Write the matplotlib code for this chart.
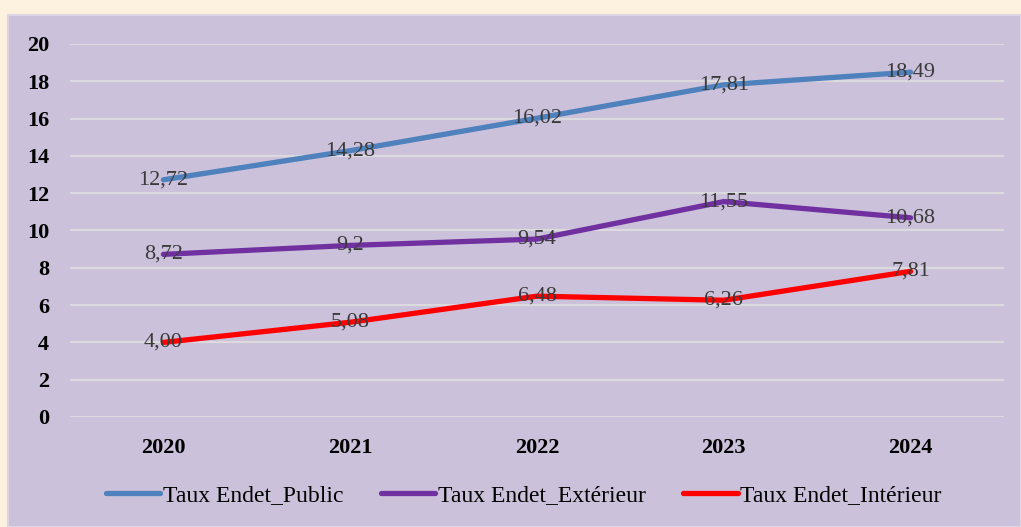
import matplotlib.pyplot as plt
from matplotlib.patches import Rectangle

# data
years = ["2020", "2021", "2022", "2023", "2024"]
taux_public = [12.72, 14.28, 16.02, 17.81, 18.49]
taux_exterieur = [8.72, 9.2, 9.54, 11.55, 10.68]
taux_interieur = [4.00, 5.08, 6.48, 6.26, 7.81]
labels_public = ["12,72", "14,28", "16,02", "17,81", "18,49"]
labels_exterieur = ["8,72", "9,2", "9,54", "11,55", "10,68"]
labels_interieur = ["4,00", "5,08", "6,48", "6,26", "7,81"]

plt.rcParams['font.family'] = ['Liberation Serif', 'DejaVu Serif']

fig = plt.figure(figsize=(10.21, 5.27), dpi=100)
fig.patch.set_facecolor("#FDF2DF")

# purple chart area
bg = Rectangle((8 / 1021, 0), 1 - 8 / 1021, (527 - 15) / 527, transform=fig.transFigure,
               facecolor="#CCC1DA", edgecolor="#DCD6E4", linewidth=1.5, zorder=-10)
fig.patches.append(bg)

ax = fig.add_axes([70 / 1021, (527 - 417) / 527, (1004 - 70) / 1021, (417 - 44) / 527])
ax.set_facecolor("none")

x = list(range(len(years)))
series = [
    (taux_public, labels_public, "#4F81BD", "Taux Endet_Public"),
    (taux_exterieur, labels_exterieur, "#7030A0", "Taux Endet_Extérieur"),
    (taux_interieur, labels_interieur, "#FF0000", "Taux Endet_Intérieur"),
]
for vals, labs, color, name in series:
    ax.plot(x, vals, color=color, linewidth=3.8, solid_capstyle="round", label=name, zorder=3)
    for xi, v, t in zip(x, vals, labs):
        ax.text(xi, v, t, ha="center", va="center", fontsize=16, color="#3A3A3A", zorder=4)

ax.set_xlim(-0.5, len(years) - 0.5)
ax.set_ylim(0, 20)
ax.set_yticks(range(0, 21, 2))
ax.set_xticks(x)
ax.set_xticklabels(years)
ax.yaxis.grid(True, color="#DDDADF", linewidth=1.5)
ax.set_axisbelow(True)
for s in ax.spines.values():
    s.set_visible(False)
ax.tick_params(length=0)
ax.tick_params(axis="y", pad=15)
ax.tick_params(axis="x", pad=15)
for lab in ax.get_xticklabels() + ax.get_yticklabels():
    lab.set_fontweight("bold")
    lab.set_fontsize(16)
    lab.set_color("black")

leg = fig.legend(loc="center", bbox_to_anchor=(0.513, (527 - 495) / 527), ncol=3,
                 frameon=False, fontsize=17, handlelength=2.3, handletextpad=0.1,
                 columnspacing=1.6)
for t in leg.get_texts():
    t.set_color("black")

fig.savefig("out.png", dpi=100, facecolor=fig.get_facecolor())
